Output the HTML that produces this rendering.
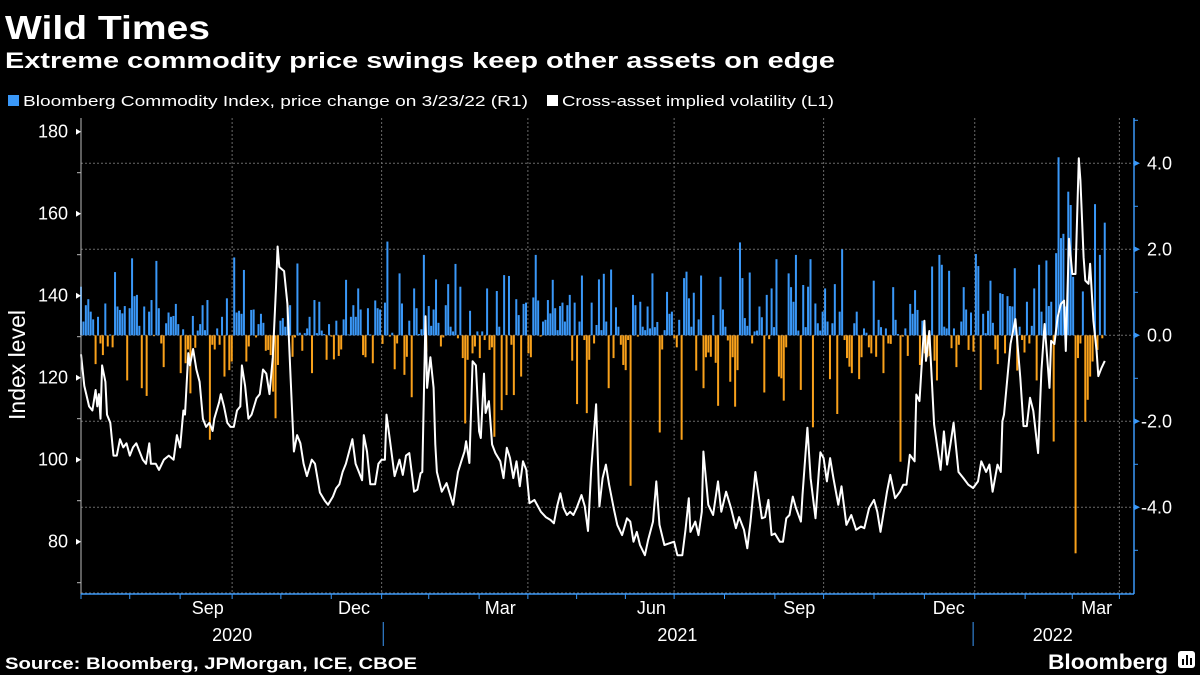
<!DOCTYPE html>
<html><head><meta charset="utf-8"><style>
html,body{margin:0;padding:0;background:#000;}
svg{display:block;font-family:"Liberation Sans",sans-serif;}
</style></head><body>
<svg id="chart" width="1200" height="675" viewBox="0 0 1200 675">
<rect x="0" y="0" width="1200" height="675" fill="#000"/>
<text x="5" y="39" fill="#fff" font-weight="bold" font-size="33" textLength="205" lengthAdjust="spacingAndGlyphs">Wild Times</text>
<text x="5" y="68" fill="#fff" font-weight="bold" font-size="22" textLength="830" lengthAdjust="spacingAndGlyphs">Extreme commodity price swings keep other assets on edge</text>
<g>
<rect x="8" y="95" width="11" height="11" fill="#3a98f8"/>
<text x="23" y="106" fill="#fff" font-size="15" textLength="505" lengthAdjust="spacingAndGlyphs">Bloomberg Commodity Index, price change on 3/23/22 (R1)</text>
<rect x="547" y="95" width="11" height="11" fill="#fff"/>
<text x="562" y="106" fill="#fff" font-size="15" textLength="272" lengthAdjust="spacingAndGlyphs">Cross-asset implied volatility (L1)</text>
</g>
<text transform="translate(25,365) rotate(-90)" text-anchor="middle" fill="#fff" font-size="23">Index level</text>
<g id="grid"></g>
<g id="bars"></g>
<g id="line"></g>
<g id="axes"></g>
<text x="5" y="669" fill="#fff" font-weight="bold" font-size="17" textLength="412" lengthAdjust="spacingAndGlyphs">Source: Bloomberg, JPMorgan, ICE, CBOE</text>
<text x="1048" y="669" fill="#fff" font-weight="bold" font-size="21" textLength="120" lengthAdjust="spacingAndGlyphs">Bloomberg</text>
<g>
<rect x="1178" y="651" width="17" height="17" rx="3" fill="#fff"/>
<rect x="1182" y="659" width="2" height="6" fill="#000"/><rect x="1186" y="655" width="2" height="10" fill="#000"/><rect x="1190" y="658" width="2" height="7" fill="#000"/>
</g>
</svg>
<script>
const leftTicks = [80,100,120,140,160,180];
const leftMinor = [70,90,110,130,150,170];
const rightTicks = [-4,-2,0,2,4];
const rightTickLabels = ["-4.0","-2.0","0.0","2.0","4.0"];
const monthLabels = ["Sep","Dec","Mar","Jun","Sep","Dec","Mar"];
const monthLabelDays = [78,168,258,351,442,534,625];
const quarterDays = [93,185,275,365,457,550,639];
const monthTickDays = [0,30,61,93,123,154,185,214,245,275,305,335,365,396,427,457,488,519,550,581,610,639];
const yearLabels = ["2020","2021","2022"];
const yearLabelDays = [93,367,598];
const yearSepDays = [186,549];

const lineDays = [0,2,5,7,9,10,11,12,13,15,16,18,20,22,24,26,28,30,32,34,36,38,40,42,43,46,48,51,54,57,59,61,63,64,66,67,69,71,73,75,77,79,81,82,85,86,88,90,92,94,96,98,99,101,103,105,108,110,112,114,116,118,120,121,122,125,127,129,131,133,135,137,139,142,144,147,150,152,155,157,159,161,163,167,169,171,173,174,176,178,181,183,185,187,188,190,193,196,198,200,202,205,207,209,210,212,213,215,217,218,219,222,225,229,232,234,236,237,239,241,243,245,246,248,249,251,253,255,258,260,262,264,266,268,270,272,274,276,279,283,286,289,291,293,295,297,299,301,303,305,308,310,312,314,317,319,321,323,325,328,330,333,336,338,340,342,344,347,349,352,354,356,359,362,365,367,370,372,374,375,378,380,382,383,386,389,392,394,397,400,403,405,408,410,412,415,417,419,421,423,425,427,430,432,434,436,438,440,443,444,447,449,452,454,455,457,459,461,463,466,468,471,474,477,480,482,485,488,490,492,496,498,501,504,506,508,510,513,514,516,519,520,522,525,527,529,531,533,535,537,540,543,546,549,552,554,557,559,561,564,566,567,568,572,575,578,580,582,584,586,589,591,593,596,597,599,601,603,605,606,608,610,612,614,615,617,618,620,621,623,625,626,628,630];
const lineVals = [125.7,118,113,112,117,113,116,110,123,119,111,109,101,101,105,103,104,101,103,104,102,100,99,104,99,99,97.5,100,101,100,106,103,112,111,126,123,127,122,119,110,108,109,107,110,114,116,113,109,108,108,112,113,123,118,110,111,115,116,122,121,116,125,142,152,147,146,138,120,102,106,104,99,96,100,99,92,90,89,91,93,94,97,99,105,99,97,95,106,102,94,94,99,100,100,111,105,96,100,96.3,101,101.6,92.2,92.7,96.7,97,135,117.5,125,117.5,103.7,97,92.2,94.3,89,97,99.6,102,104.5,99.2,124,123,106.9,105.3,121,111.4,114.3,103.7,101.6,99.6,95.5,102.9,100.4,95.5,99.6,93.5,99.6,97.5,89.4,90.2,87.3,86,85.3,84.5,88.6,91.8,88.2,86.5,87.3,86.5,88.2,91.4,88.6,82.6,98,113.5,88.6,95.5,98.8,93.9,87.8,84.1,81.6,85.7,84.9,80,82.4,79.2,76.7,80.4,84.9,94.7,84.1,79.2,79.6,80,76.7,76.7,82.9,90.6,82.4,84.9,81.6,87.3,102,89,86.5,94.7,87.3,92.2,88.2,83.3,86,82.9,78.4,84.9,97,91.4,85.7,86,90.2,81.6,82,80,80,85.7,86.5,91,88.2,84.9,91.4,107.8,95.5,85.7,97,101.8,100.4,94.7,100.4,95.5,89,93.5,84.1,86.5,82.9,83.7,83.3,88.2,90.2,87.3,82.4,92.2,96.3,90.6,92.2,93.9,93.9,101.2,99.6,115.9,114.3,133.9,124.1,131.4,108.6,102.9,97.5,106.9,98.8,103.7,109,97,95.5,93.9,93.1,94.7,99.6,97,98.8,92.2,98.8,97,109.4,111,128.2,134.3,120,108.2,108.2,115.1,111.9,101.6,121.6,133.1,117.5,129,128.2,134.7,138,138.8,126.5,153.9,145.3,145.3,173.5,168.2,149.4,143.7,142.9,147.8,133.9,126.5,120.4,122.4,124.1];

const barVals = [1.13,.32,.7,.84,.55,.37,-.67,.43,-.19,-.46,.74,-.26,.02,-.28,1.47,.67,.59,.51,.68,-1.05,.63,1.79,.91,.94,.22,-1.23,.67,-1.41,.55,.82,-.02,1.73,.63,-.19,-.74,.28,.53,.43,.45,.73,.26,-.88,.14,-.65,-.33,-1.35,.45,-.29,.11,.26,.7,.12,.82,-2.43,-.22,-.33,.16,-.22,.43,-.96,.86,-.81,-.61,1.81,.53,.57,.5,1.52,-.61,-.26,.59,.6,-.05,.26,.5,.29,-.36,-.34,-.46,-1.31,-1.93,-.69,.34,.4,.2,.65,.7,-.5,-.05,1.67,.06,-.36,.05,.16,.43,-.88,.82,.05,.78,.11,.03,-.57,.26,-.03,-.56,.34,-.48,-.33,.37,1.29,.02,.43,.7,.43,1.09,.6,-.46,-.51,.63,.02,-.65,.81,.63,.6,-.2,.76,2.18,-.03,.06,-.79,-.19,
1.44,.74,-.92,-.5,.34,-1.44,1.09,.63,.03,.14,1.87,-.38,.68,.22,.6,1.3,.29,-.26,-.05,.7,1.19,.2,.09,1.66,-.07,1.13,-.53,-2.05,-.57,.57,-.42,-.26,.09,-.53,.09,-.11,1.09,-.34,-.28,-2.36,1.03,.2,-1.74,1.4,-1.39,1.38,-.22,-1.39,.84,.47,-.96,.73,.76,-.42,-.51,.88,1.87,.81,-.03,.32,.36,.82,.51,1.29,.63,.12,.68,.76,.32,.7,.94,-.59,.76,-1.6,.32,1.39,-.11,-1.81,-.57,.76,-.19,.24,1.3,.12,1.43,.32,-1.23,1.53,-.53,.65,.2,-.22,-.69,-.81,-.11,-3.5,.94,.7,-.03,.78,.2,.12,.67,.16,1.44,.19,.31,-2.26,-.33,.12,1.01,.5,.55,-.07,-.28,.36,-2.43,1.33,1.48,.86,.2,.99,-.82,.37,1.39,-1.23,-.51,-.4,-.5,.47,-.64,-1.64,1.36,.6,.2,-.12,-1.08,-.51,-1.66,-.81,2.16,1.33,.4,.22,1.46,-.19,.09,.11,.67,.42,-1.33,.94,-.09,1.09,.19,1.77,
-.96,-1,-1.52,-.28,1.44,1.12,.78,1.87,.11,-1.27,1.17,.19,1.13,1.77,-2.14,.74,.28,.11,.55,1.09,.32,-1.02,.28,1.19,-1.83,.55,2,-.11,-.53,-.73,-.88,.28,.55,-1.02,-.51,.16,.06,-.28,-.42,1.27,-.5,.36,.19,-.88,.16,-.19,-.2,1.12,.36,.03,-2.94,-.03,.16,-.48,.73,.5,1.05,.59,-.69,.34,-.42,-.51,-.48,1.6,-.59,-1.05,1.87,1.64,.2,.16,1.5,-.3,.16,-.74,-.22,.32,1.12,.6,-.34,.53,-.38,1.89,1.61,-1.27,.5,.05,.57,1.27,.29,-.33,-.67,.98,.96,-.42,.91,.68,.67,1.56,-.82,.2,-.11,-.4,.78,-.19,.22,1.09,-1.05,1.64,.55,.11,1.74,.68,.78,-2.47,1.91,4.14,2.26,2.36,.67,3.34,3.03,1.36,-5.07,-.53,-.19,1.02,-2.01,-1.5,-.96,-.61,3.05,-.34,1.87,-.07,2.62];

const NS='http://www.w3.org/2000/svg';
const X0=81, X1=1134, Y0=118, YB=594;
function xS(d){return 81+d*1.625;}
function yL(v){return 131.7+(180-v)*4.1;}
function yR(v){return 335.3-v*43;}
function mk(tag,attrs,parent){const e=document.createElementNS(NS,tag);for(const k in attrs)e.setAttribute(k,attrs[k]);parent.appendChild(e);return e;}
const grid=document.getElementById('grid'), bars=document.getElementById('bars'), lineG=document.getElementById('line'), axes=document.getElementById('axes');

rightTicks.forEach(v=>{
  const g=mk('line',{x1:X0,x2:X1,y1:yR(v),y2:yR(v),stroke:'#6a6a6a','stroke-width':1,'stroke-dasharray':'2,2'},grid);
  
  
});
const gb=mk('line',{x1:X0,x2:X1,y1:YB-1,y2:YB-1,stroke:'#6a6a6a','stroke-width':1,'stroke-dasharray':'2,2'},grid);


quarterDays.forEach(d=>{
  const g=mk('line',{x1:xS(d),x2:xS(d),y1:Y0,y2:YB,stroke:'#6a6a6a','stroke-width':1,'stroke-dasharray':'2,2'},grid);
  
  
});

const n=barVals.length, step=630/(n-1);
barVals.forEach((v,i)=>{
  const x=xS(i*step), y0=yR(0), y1=yR(v);
  const r=mk('rect',{x:(x-1).toFixed(2),y:Math.min(y0,y1).toFixed(2),width:2,height:Math.max(0.5,Math.abs(y1-y0)).toFixed(2),fill:v>=0?'#3a98f8':'#f9a11b'},bars);
  
  
});

let dstr='';
lineDays.forEach((d,i)=>{dstr+=(i?'L':'M')+xS(d).toFixed(1)+','+yL(lineVals[i]).toFixed(1);});
const p=mk('path',{d:dstr,fill:'none',stroke:'#fff','stroke-width':2,'stroke-linejoin':'round'},lineG);



const la=mk('line',{x1:X0,x2:X0,y1:Y0,y2:YB,stroke:'#bbb','stroke-width':1},axes);


leftTicks.forEach(v=>{
  const y=yL(v);
  mk('path',{d:`M${X0-5},${y-3}L${X0},${y}L${X0-5},${y+3}Z`,fill:'#fff'},axes);
  const t=mk('text',{x:68,y:y+6,'text-anchor':'end',fill:'#fff','font-size':18},axes);
  t.textContent=v;
  
  
});
leftMinor.forEach(v=>{mk('line',{x1:X0-4,x2:X0,y1:yL(v),y2:yL(v),stroke:'#bbb'},axes);});
const ra=mk('line',{x1:X1,x2:X1,y1:Y0,y2:YB,stroke:'#3a98f8','stroke-width':1.5},axes);


[-5,-3,-1,1,3,5].forEach(v=>{mk('line',{x1:X1,x2:X1+4,y1:yR(v),y2:yR(v),stroke:'#3a98f8'},axes);});
rightTicks.forEach((v,i)=>{
  const y=yR(v);
  mk('path',{d:`M${X1},${y-3}L${X1+6},${y}L${X1},${y+3}Z`,fill:'#3a98f8'},axes);
  const t=mk('text',{x:v<0?1141:1147,y:y+6,fill:'#fff','font-size':18},axes);
  t.textContent=rightTickLabels[i];
  
  
});
const ba=mk('line',{x1:X0,x2:X1,y1:YB,y2:YB,stroke:'#3a98f8','stroke-width':1.5},axes);


monthTickDays.forEach(d=>{mk('line',{x1:xS(d),x2:xS(d),y1:YB,y2:YB+5,stroke:'#3a98f8'},axes);});
monthLabels.forEach((m,i)=>{
  const t=mk('text',{x:xS(monthLabelDays[i]),y:614,'text-anchor':'middle',fill:'#fff','font-size':18},axes);
  t.textContent=m;
  
  
});
yearLabels.forEach((yv,i)=>{
  const t=mk('text',{x:xS(yearLabelDays[i]),y:641,'text-anchor':'middle',fill:'#fff','font-size':18},axes);
  t.textContent=yv;
  
  
});
yearSepDays.forEach(d=>{mk('line',{x1:xS(d),x2:xS(d),y1:622,y2:646,stroke:'#3a98f8'},axes);});
</script>
</body></html>
